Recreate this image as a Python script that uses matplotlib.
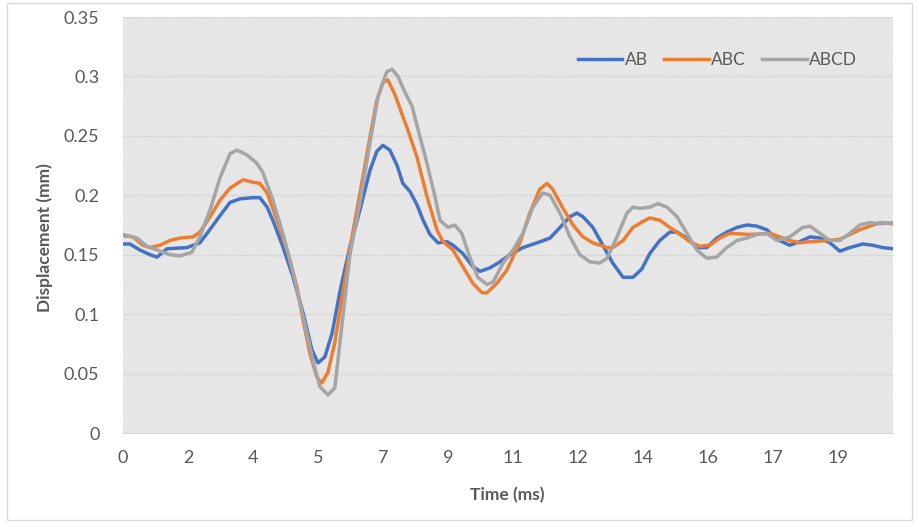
import numpy as np
import matplotlib.pyplot as plt
from matplotlib.patches import Rectangle

plt.rcParams.update({'font.family': ['Lato', 'DejaVu Sans'],
                     'hatch.linewidth': 0.9})

# time (ms) and displacement (mm)
t_ab = [0.00, 0.18, 0.44, 0.71, 0.89, 1.15, 1.67, 2.01, 2.27, 2.54, 2.80, 3.06, 3.40, 3.58, 3.77,
        3.92, 4.18, 4.45, 4.71, 4.94, 5.10, 5.28, 5.47, 5.68, 5.94, 6.20, 6.46, 6.64, 6.80, 6.98,
        7.17, 7.32, 7.51, 7.69, 7.85, 8.03, 8.24, 8.47, 8.63, 8.89, 9.15, 9.34, 9.60, 9.86, 10.12,
        10.46, 10.83, 11.17, 11.43, 11.69, 11.87, 12.03, 12.29, 12.55, 12.81, 13.08, 13.34, 13.57,
        13.78, 14.04, 14.30, 14.49, 14.75, 15.01, 15.27, 15.53, 15.79, 16.06, 16.32, 16.58, 16.84,
        17.10, 17.44, 17.70, 17.97, 18.23, 18.49, 18.75, 19.01, 19.35, 19.61, 19.87, 20.14]
ab = [0.159, 0.159, 0.154, 0.150, 0.148, 0.155, 0.156, 0.160, 0.171, 0.183, 0.194, 0.197, 0.198,
      0.198, 0.190, 0.179, 0.157, 0.131, 0.101, 0.070, 0.059, 0.064, 0.084, 0.120, 0.157, 0.188,
      0.221, 0.237, 0.242, 0.238, 0.225, 0.210, 0.203, 0.192, 0.179, 0.167, 0.160, 0.161, 0.158,
      0.151, 0.140, 0.136, 0.139, 0.144, 0.150, 0.156, 0.160, 0.164, 0.173, 0.182, 0.185, 0.182,
      0.173, 0.158, 0.143, 0.131, 0.131, 0.138, 0.151, 0.162, 0.169, 0.169, 0.164, 0.156, 0.156,
      0.164, 0.169, 0.173, 0.175, 0.174, 0.171, 0.163, 0.158, 0.161, 0.165, 0.164, 0.160, 0.153,
      0.156, 0.159, 0.158, 0.156, 0.155]

t_abc = [0.00, 0.26, 0.52, 0.71, 0.97, 1.23, 1.49, 1.83, 2.01, 2.28, 2.54, 2.80, 3.14, 3.40, 3.58,
         3.77, 4.03, 4.29, 4.55, 4.71, 4.89, 5.07, 5.20, 5.36, 5.54, 5.75, 5.99, 6.20, 6.46, 6.64,
         6.80, 6.93, 7.11, 7.30, 7.45, 7.69, 7.95, 8.21, 8.37, 8.63, 8.89, 9.15, 9.39, 9.52, 9.78,
         10.04, 10.17, 10.38, 10.64, 10.90, 11.09, 11.24, 11.51, 11.77, 12.03, 12.29, 12.66, 12.81,
         13.08, 13.34, 13.60, 13.78, 14.04, 14.30, 14.57, 14.83, 15.09, 15.35, 15.61, 15.87, 16.40,
         16.92, 17.18, 17.44, 17.70, 17.97, 18.49, 18.75, 19.01, 19.27, 19.53, 19.80, 20.14]
abc = [0.166, 0.165, 0.158, 0.156, 0.158, 0.162, 0.164, 0.165, 0.169, 0.182, 0.196, 0.206, 0.213,
       0.211, 0.210, 0.202, 0.179, 0.154, 0.123, 0.095, 0.067, 0.047, 0.042, 0.051, 0.076, 0.118,
       0.165, 0.202, 0.249, 0.280, 0.295, 0.297, 0.285, 0.268, 0.255, 0.232, 0.199, 0.171, 0.161,
       0.154, 0.140, 0.126, 0.118, 0.118, 0.126, 0.137, 0.146, 0.160, 0.185, 0.205, 0.210, 0.205,
       0.189, 0.175, 0.165, 0.160, 0.156, 0.156, 0.162, 0.173, 0.178, 0.181, 0.179, 0.173, 0.167,
       0.161, 0.157, 0.158, 0.164, 0.168, 0.167, 0.168, 0.165, 0.162, 0.160, 0.161, 0.162, 0.163,
       0.167, 0.171, 0.174, 0.177, 0.176]

t_abcd = [0.00, 0.37, 0.63, 0.89, 1.23, 1.49, 1.80, 2.01, 2.28, 2.54, 2.80, 2.98, 3.24, 3.50, 3.66,
          3.92, 4.18, 4.45, 4.71, 4.97, 5.15, 5.36, 5.54, 5.73, 5.94, 6.20, 6.46, 6.67, 6.90, 7.04,
          7.19, 7.37, 7.56, 7.72, 7.95, 8.16, 8.29, 8.50, 8.68, 8.86, 9.07, 9.28, 9.52, 9.68, 9.94,
          10.20, 10.46, 10.72, 10.98, 11.17, 11.43, 11.69, 11.95, 12.21, 12.47, 12.66, 12.92, 13.18,
          13.34, 13.52, 13.78, 13.99, 14.23, 14.49, 14.75, 15.01, 15.27, 15.53, 15.79, 16.06, 16.32,
          16.58, 16.84, 17.10, 17.44, 17.78, 17.97, 18.23, 18.49, 18.75, 19.01, 19.27, 19.53, 19.80,
          20.14]
abcd = [0.167, 0.164, 0.157, 0.154, 0.150, 0.149, 0.152, 0.165, 0.188, 0.215, 0.235, 0.238, 0.234,
        0.227, 0.219, 0.196, 0.168, 0.135, 0.098, 0.061, 0.039, 0.032, 0.038, 0.092, 0.151, 0.194,
        0.244, 0.283, 0.304, 0.306, 0.300, 0.287, 0.275, 0.255, 0.227, 0.199, 0.179, 0.173, 0.175,
        0.168, 0.148, 0.131, 0.125, 0.127, 0.143, 0.154, 0.168, 0.190, 0.202, 0.200, 0.185, 0.165,
        0.150, 0.144, 0.143, 0.147, 0.165, 0.185, 0.190, 0.189, 0.190, 0.193, 0.190, 0.182, 0.168,
        0.154, 0.147, 0.148, 0.156, 0.162, 0.164, 0.167, 0.168, 0.162, 0.165, 0.173, 0.174, 0.168,
        0.162, 0.162, 0.168, 0.175, 0.177, 0.176, 0.177]

x_labels = ['0', '2', '4', '5', '7', '9', '11', '12', '14', '16', '17', '19']
y_labels = ['0', '0.05', '0.1', '0.15', '0.2', '0.25', '0.3', '0.35']

txt = '#595959'

fig = plt.figure(figsize=(9.19, 5.27), dpi=100)
ax = fig.add_axes([123/919, 94/527, 770/919, 416/527])

# excel-style hatched plot area
ax.set_facecolor('#f3f3f3')
ax.add_patch(Rectangle((0, 0), 1, 1, transform=ax.transAxes, facecolor='none',
                       edgecolor='#e0e0e0', hatch='\\' * 12, linewidth=0, zorder=0))

ax.plot(t_ab, ab, color='#4472C4', lw=2.5, label='AB', zorder=3)
ax.plot(t_abc, abc, color='#ED7D31', lw=2.5, label='ABC', zorder=3)
ax.plot(t_abcd, abcd, color='#A5A5A5', lw=2.5, label='ABCD', zorder=3)

ax.set_xlim(0, 20.14)
ax.set_ylim(0, 0.35)
ax.set_xticks(np.arange(len(x_labels)) * 1.7)
ax.set_xticklabels(x_labels)
ax.set_yticks(np.arange(len(y_labels)) * 0.05)
ax.set_yticklabels(y_labels)
ax.tick_params(length=0, colors=txt, labelsize=13)
ax.tick_params(axis='y', pad=17)
ax.tick_params(axis='x', pad=12)

ax.set_axisbelow(True)
ax.yaxis.grid(True, color='#d9d9d9', linewidth=1)
for s in ['top', 'right', 'left']:
    ax.spines[s].set_visible(False)
ax.spines['bottom'].set_color('#d9d9d9')

fig.text(507/919, 1 - 495/527, 'Time (ms)', ha='center', va='center',
         fontsize=12.5, fontweight='bold', color=txt)
fig.text(45/919, 1 - 238/527, 'Displacement (mm)', ha='center', va='center',
         rotation=90, fontsize=12.5, fontweight='bold', color=txt)

ax.legend(loc='center left', bbox_to_anchor=((578 - 123) / 770, (433 - 60) / 416),
          ncol=3, frameon=False, fontsize=12.5, handlelength=2.55, handletextpad=0.15,
          columnspacing=0.95, borderpad=0, borderaxespad=0, labelcolor=txt)

fig.add_artist(Rectangle((7/919, 7/527), 905/919, 517/527, transform=fig.transFigure,
                         fill=False, edgecolor='#d9d9d9', linewidth=1))

fig.savefig('out.png', dpi=100)
